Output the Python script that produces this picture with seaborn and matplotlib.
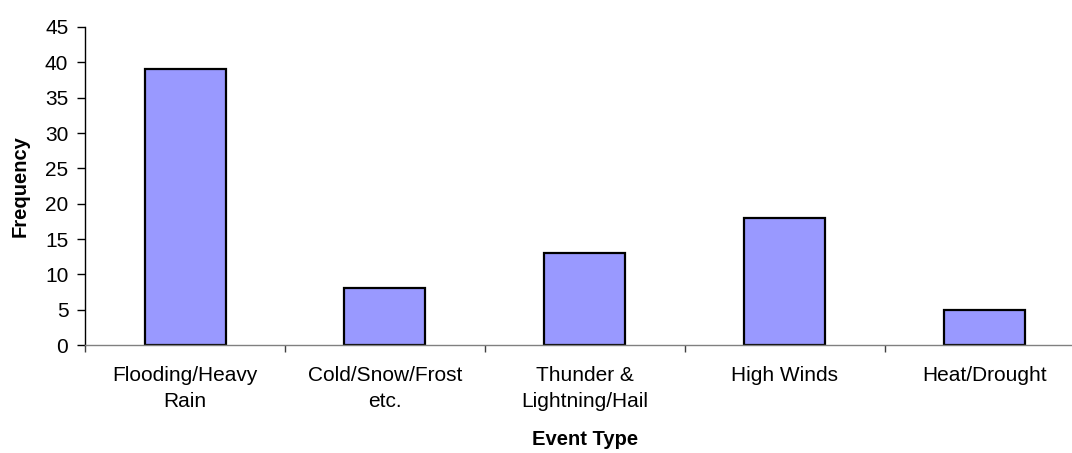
import seaborn as sns
import matplotlib.pyplot as plt
import numpy as np
import pandas as pd
from matplotlib.ticker import FixedLocator, NullFormatter

# event types and how often each one was reported
event_types = ["Flooding/Heavy\nRain", "Cold/Snow/Frost\netc.", "Thunder &\nLightning/Hail",
               "High Winds", "Heat/Drought"]
frequency = [39, 8, 13, 18, 5]

data = pd.DataFrame({"Event Type": event_types, "Frequency": frequency})

sns.set_style("white")
plt.rcParams['font.family'] = ['Liberation Sans', 'DejaVu Sans']
plt.rcParams['text.color'] = 'black'
plt.rcParams['axes.labelcolor'] = 'black'
plt.rcParams['xtick.color'] = 'black'
plt.rcParams['ytick.color'] = 'black'

fig = plt.figure(figsize=(10.72, 4.53), dpi=100)
ax = fig.add_axes([0.0793, 0.2384, 0.9328, 0.702])

sns.barplot(data=data, x="Event Type", y="Frequency", color="#9999ff",
            edgecolor="black", linewidth=1.6, width=0.405, saturation=1, ax=ax)

ax.set_xlim(-0.5, len(event_types) - 0.5)
ax.set_ylim(0, 45)
ax.set_yticks(np.arange(0, 50, 5))
ax.tick_params(axis="y", labelsize=15, length=6, width=1, direction="out", left=True, pad=6)

# ticks between categories, labels in the middle
ax.xaxis.set_major_locator(FixedLocator(np.arange(-0.5, len(event_types), 1)))
ax.xaxis.set_major_formatter(NullFormatter())
ax.xaxis.set_minor_locator(FixedLocator(np.arange(len(event_types))))
ax.set_xticklabels(event_types, minor=True, linespacing=1.45)
ax.tick_params(axis="x", which="major", length=5, width=1, direction="out", bottom=True, color="#404040")
ax.tick_params(axis="x", which="minor", length=0, labelsize=15, pad=15)

for s in ["top", "right"]:
    ax.spines[s].set_visible(False)
ax.spines["left"].set_color("black")
ax.spines["bottom"].set_color("#808080")
ax.spines["left"].set_linewidth(1)
ax.spines["bottom"].set_linewidth(1)

ax.set_xlabel("Event Type", fontsize=14.5, fontweight="bold", labelpad=14)
ax.set_ylabel("Frequency", fontsize=14.5, fontweight="bold", labelpad=11)

fig.savefig("out.png", dpi=100)
